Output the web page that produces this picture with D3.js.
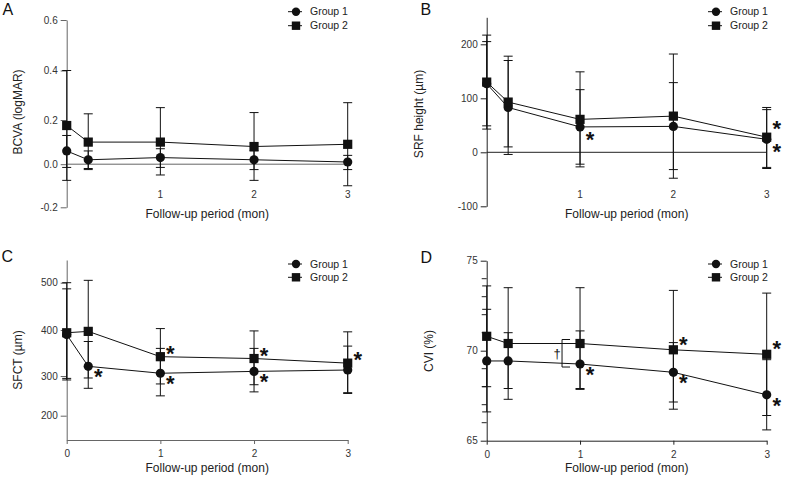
<!DOCTYPE html>
<html><head><meta charset="utf-8">
<script src="https://cdn.jsdelivr.net/npm/d3@7"></script>
<style>
body{margin:0;background:#fff}
svg{display:block}
text{font-family:"Liberation Sans",Arial,Helvetica,sans-serif}
</style>
</head><body>
<svg id="chart" width="798" height="482"></svg>
<script>
// ---------- data ----------
const months = [0, 0.23, 1, 2, 3];
const xTickValues = [1, 2, 3];
const xTickValuesFull = [0, 1, 2, 3];
const groupNames = ["Group 1", "Group 2"];

// A: BCVA (logMAR)
const bcvaTicks = [-0.2, 0, 0.2, 0.4, 0.6];
const bcvaG1 = [0.06, 0.02, 0.03, 0.02, 0.01];
const bcvaG1Lo = [-0.015, -0.025, -0.015, -0.025, -0.025];
const bcvaG1Hi = [0.13, 0.06, 0.07, 0.06, 0.04];
const bcvaG2 = [0.175, 0.10, 0.10, 0.08, 0.09];
const bcvaG2Lo = [-0.075, -0.02, -0.05, -0.075, -0.10];
const bcvaG2Hi = [0.40, 0.225, 0.25, 0.23, 0.27];
const bcvaSigG1 = [0, 0, 0, 0, 0];
const bcvaSigG2 = [0, 0, 0, 0, 0];

// B: SRF height (µm)
const srfTicks = [-100, 0, 100, 200];
const srfG1 = [127, 83, 47, 48, 24];
const srfG1Lo = [49, -4, -22, -32, -30];
const srfG1Hi = [205, 170, 116, 129, 79];
const srfG2 = [130, 93, 61, 67, 28];
const srfG2Lo = [43, 10, -27, -48, -28];
const srfG2Hi = [217, 178, 149, 182, 83];
const srfSigG1 = [0, 0, 1, 0, 1];
const srfSigG2 = [0, 0, 0, 0, 1];

// C: SFCT (µm)
const sfctTicks = [200, 300, 400, 500];
const sfctG1 = [390, 321, 306, 310, 313];
const sfctG1Lo = [294, 269, 250, 260, 256];
const sfctG1Hi = [487, 375, 360, 360, 365];
const sfctG2 = [394, 397, 342, 338, 328];
const sfctG2Lo = [290, 295, 280, 278, 258];
const sfctG2Hi = [500, 505, 403, 398, 396];
const sfctSigG1 = [0, 1, 1, 1, 0];
const sfctSigG2 = [0, 0, 1, 1, 1];

// D: CVI (%)
const cviTicks = [65, 70, 75];
const cviMinorTicks = [66, 67, 68, 69, 71, 72, 73, 74];
const cviG1 = [69.43, 69.43, 69.26, 68.8, 67.55];
const cviG1Lo = [66.6, 67.9, 67.85, 67.15, 65.6];
const cviG1Hi = [72.3, 71.0, 71.1, 70.45, 69.5];
const cviG2 = [70.8, 70.4, 70.4, 70.05, 69.8];
const cviG2Lo = [68.0, 67.3, 67.9, 66.75, 66.4];
const cviG2Hi = [73.6, 73.5, 73.5, 73.35, 73.2];
const cviSigG1 = [0, 0, 1, 1, 1];
const cviSigG2 = [0, 0, 0, 1, 1];

// ---------- drawing ----------
const svg = d3.select("#chart");
const INK = "#111";

function drawPanel(p) {
  const g = svg.append("g");
  const x = d3.scaleLinear().domain([0, 3]).range([p.x0, p.x3]);
  const y = d3.scaleLinear().domain(p.yDomain).range(p.yRange);

  // panel letter
  g.append("text").attr("x", p.letterX).attr("y", p.letterY)
    .attr("font-size", 16).attr("fill", "#111").text(p.letter);

  // y axis
  const ya = g.append("g").attr("transform", `translate(${p.x0},0)`)
    .call(d3.axisLeft(y).tickValues(p.ticks).tickSize(6).tickSizeOuter(0)
      .tickPadding(3).tickFormat(p.fmt));
  ya.attr("color", p.axisColor).attr("font-family", null).attr("font-size", null);
  ya.selectAll("text").attr("font-size", 10).attr("fill", "#333");
  if (p.minor) {
    ya.selectAll(".minor").data(p.minor).enter().append("line")
      .attr("class", "minor").attr("stroke", "currentColor")
      .attr("x1", -5).attr("x2", 0)
      .attr("y1", d => y(d)).attr("y2", d => y(d));
  }

  // x axis
  if (p.zeroLine) {
    g.append("line").attr("x1", x(0)).attr("x2", x(3))
      .attr("y1", y(0)).attr("y2", y(0))
      .attr("stroke", p.axisColor).attr("stroke-width", 1);
    g.selectAll(".xl").data(xTickValues).enter().append("text")
      .attr("x", d => x(d)).attr("y", p.xLabelY)
      .attr("text-anchor", "middle").attr("font-size", 10).attr("fill", "#333")
      .text(d => d);
  } else {
    const xa = g.append("g").attr("transform", `translate(0,${p.yRange[0]})`)
      .call(d3.axisBottom(x).tickValues(xTickValuesFull).tickSize(4)
        .tickSizeOuter(0).tickPadding(6).tickFormat(d3.format("d")));
    xa.attr("color", p.axisColor).attr("font-family", null).attr("font-size", null);
    xa.selectAll("text").attr("font-size", 10).attr("fill", "#333");
  }

  // axis titles
  g.append("text").attr("x", (p.x0 + p.x3) / 2).attr("y", p.xTitleY)
    .attr("text-anchor", "middle").attr("font-size", 12).attr("fill", "#222")
    .text("Follow-up period (mon)");
  g.append("text")
    .attr("transform", `translate(${p.yTitleX},${p.yTitleY}) rotate(-90)`)
    .attr("text-anchor", "middle").attr("font-size", 12).attr("fill", "#222")
    .text(p.yTitle);

  const groups = [
    { mean: p.g1, lo: p.g1Lo, hi: p.g1Hi, sig: p.sig1, shape: "circle", starDy: p.starDy[0] },
    { mean: p.g2, lo: p.g2Lo, hi: p.g2Hi, sig: p.sig2, shape: "square", starDy: p.starDy[1] }
  ];

  // error bars
  groups.forEach(gr => {
    const pts = months.map((m, i) => ({ m, lo: gr.lo[i], hi: gr.hi[i] }));
    const eb = g.append("g").attr("stroke", INK).attr("stroke-width", 1);
    eb.selectAll(".v").data(pts).enter().append("line")
      .attr("x1", d => x(d.m)).attr("x2", d => x(d.m))
      .attr("y1", d => y(d.lo)).attr("y2", d => y(d.hi));
    ["lo", "hi"].forEach(k => {
      eb.selectAll(".c" + k).data(pts).enter().append("line")
        .attr("x1", d => x(d.m) - 4.5).attr("x2", d => x(d.m) + 4.5)
        .attr("y1", d => y(d[k])).attr("y2", d => y(d[k]));
    });
  });

  // lines + markers
  groups.forEach(gr => {
    const pts = months.map((m, i) => ({ m, v: gr.mean[i], s: gr.sig[i] }));
    g.append("path").datum(pts)
      .attr("fill", "none").attr("stroke", INK).attr("stroke-width", 1)
      .attr("d", d3.line().x(d => x(d.m)).y(d => y(d.v)));
    if (gr.shape === "circle") {
      g.selectAll(null).data(pts).enter().append("circle")
        .attr("cx", d => x(d.m)).attr("cy", d => y(d.v)).attr("r", 4.6).attr("fill", INK);
    } else {
      g.selectAll(null).data(pts).enter().append("rect")
        .attr("x", d => x(d.m) - 4.6).attr("y", d => y(d.v) - 4.6)
        .attr("width", 9.2).attr("height", 9.2).attr("fill", INK);
    }
    g.selectAll(null).data(pts.filter(d => d.s)).enter().append("text")
      .attr("x", d => x(d.m) + 10).attr("y", d => y(d.v) + gr.starDy + 10)
      .attr("text-anchor", "middle").attr("font-size", 22).attr("font-weight", "bold")
      .attr("fill", INK).text("*");
  });

  // dagger bracket (panel D)
  if (p.bracket) {
    const bx = x(1) - 18, by1 = y(p.g2[2]) - 4, by2 = y(p.g1[2]) + 3;
    g.append("path").attr("fill", "none").attr("stroke", INK).attr("stroke-width", 1)
      .attr("d", `M${bx + 8},${by1}H${bx}V${by2}H${bx + 8}`);
    g.append("text").attr("x", bx - 5).attr("y", (by1 + by2) / 2 + 5)
      .attr("text-anchor", "middle").attr("font-size", 13).attr("fill", INK).text("†");
  }

  // legend
  groupNames.forEach((name, i) => {
    const ly = p.legY[i];
    g.append("line").attr("x1", p.legX).attr("x2", p.legX + 14)
      .attr("y1", ly).attr("y2", ly).attr("stroke", INK).attr("stroke-width", 1);
    if (i === 0) {
      g.append("circle").attr("cx", p.legX + 8).attr("cy", ly).attr("r", 4.2).attr("fill", INK);
    } else {
      g.append("rect").attr("x", p.legX + 8 - 4.2).attr("y", ly - 4.2)
        .attr("width", 8.4).attr("height", 8.4).attr("fill", INK);
    }
    g.append("text").attr("x", p.legX + 22).attr("y", ly + 3.7)
      .attr("font-size", 10.5).attr("fill", "#222").text(name);
  });
}

const fmt1 = d => d.toFixed(1);
const fmt0 = d => String(d);

drawPanel({
  letter: "A", letterX: 2.5, letterY: 15,
  x0: 66.7, x3: 347.7,
  yDomain: bcvaTicks, yRange: [207.3, 164.2, 120, 70.5, 20],
  ticks: bcvaTicks, fmt: fmt1, axisColor: "#666",
  zeroLine: true, xLabelY: 197.8, xTitleY: 217.5,
  yTitle: "BCVA (logMAR)", yTitleX: 22.2, yTitleY: 112,
  g1: bcvaG1, g1Lo: bcvaG1Lo, g1Hi: bcvaG1Hi, sig1: bcvaSigG1,
  g2: bcvaG2, g2Lo: bcvaG2Lo, g2Hi: bcvaG2Hi, sig2: bcvaSigG2,
  starDy: [8, -7],
  legX: 288, legY: [11.7, 25.7]
});

drawPanel({
  letter: "B", letterX: 420.5, letterY: 15,
  x0: 486.7, x3: 766.7,
  yDomain: [-100, 250], yRange: [206.3, 17.3],
  ticks: srfTicks, fmt: fmt0, axisColor: "#222",
  zeroLine: true, xLabelY: 197.8, xTitleY: 217.5,
  yTitle: "SRF height (µm)", yTitleX: 423, yTitleY: 114,
  g1: srfG1, g1Lo: srfG1Lo, g1Hi: srfG1Hi, sig1: srfSigG1,
  g2: srfG2, g2Lo: srfG2Lo, g2Hi: srfG2Hi, sig2: srfSigG2,
  starDy: [10, -11],
  legX: 708, legY: [11.7, 25.7]
});

drawPanel({
  letter: "C", letterX: 1.5, letterY: 261.7,
  x0: 66.7, x3: 347.7,
  yDomain: [135, 200, 300, 400, 500, 548], yRange: [440, 415.7, 376, 330, 282.7, 260],
  ticks: sfctTicks, fmt: fmt0, axisColor: "#666",
  zeroLine: false, xTitleY: 472,
  yTitle: "SFCT (µm)", yTitleX: 22.3, yTitleY: 360,
  g1: sfctG1, g1Lo: sfctG1Lo, g1Hi: sfctG1Hi, sig1: sfctSigG1,
  g2: sfctG2, g2Lo: sfctG2Lo, g2Hi: sfctG2Hi, sig2: sfctSigG2,
  starDy: [8, -6],
  legX: 288, legY: [264, 277.3]
});

drawPanel({
  letter: "D", letterX: 420.5, letterY: 263.3,
  x0: 486.7, x3: 766.7,
  yDomain: [65, 75], yRange: [440.7, 260.7],
  ticks: cviTicks, minor: cviMinorTicks, fmt: fmt0, axisColor: "#222",
  zeroLine: false, xTitleY: 472,
  yTitle: "CVI (%)", yTitleX: 433, yTitleY: 351,
  g1: cviG1, g1Lo: cviG1Lo, g1Hi: cviG1Hi, sig1: cviSigG1,
  g2: cviG2, g2Lo: cviG2Lo, g2Hi: cviG2Hi, sig2: cviSigG2,
  starDy: [8, -8],
  bracket: true,
  legX: 708, legY: [264, 277.3]
});
</script>
</body></html>
